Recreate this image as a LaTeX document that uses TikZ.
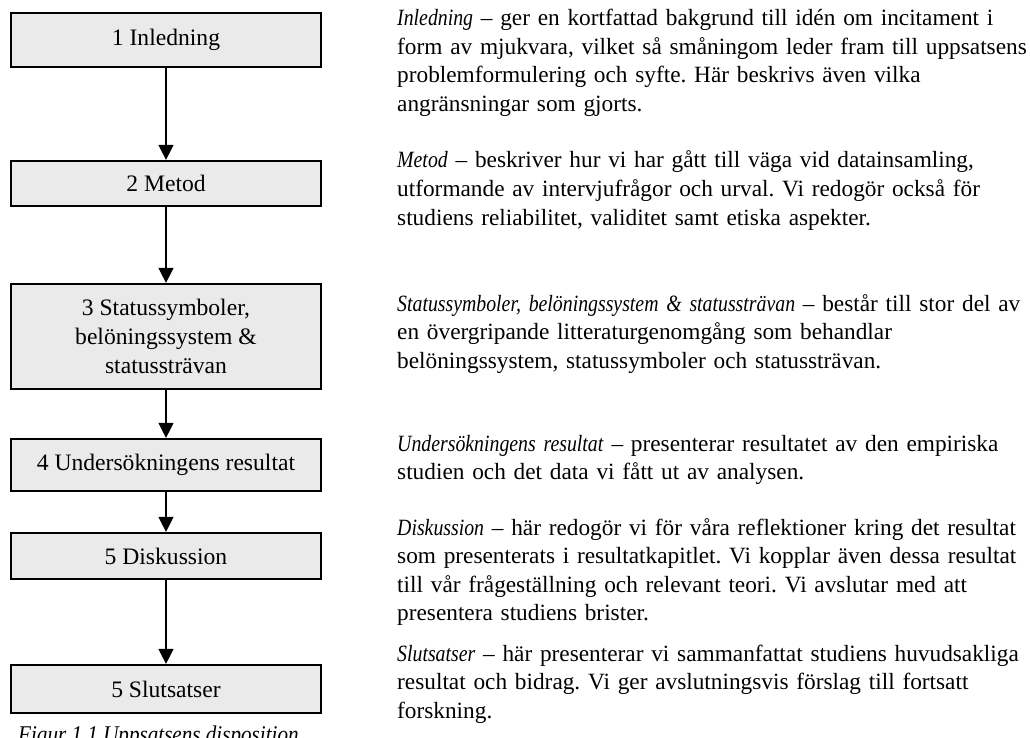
\documentclass[tikz,border=0pt]{standalone}
\usepackage{fontspec}
\setmainfont{Liberation Serif}[ItalicFeatures={FakeStretch=0.85}]
\newfontfamily\capfont{Liberation Serif}[FakeStretch=0.88]
\usetikzlibrary{arrows.meta}
\definecolor{boxfill}{HTML}{EAEAEA}
\frenchspacing
\begin{document}
\begin{tikzpicture}[x=1pt,y=-1pt,
  stepbox/.style={draw=black, line width=2.2pt, fill=boxfill, minimum width=310pt, align=center, inner sep=0pt,
    font=\fontsize{23.6}{29}\selectfont},
  desc/.style={anchor=base west, inner sep=0pt, text width=700pt, align=left,
    font=\fontsize{23.3}{28.5}\selectfont},
  flow/.style={line width=1.3pt, -{Triangle[width=15pt,length=15pt]}}]
\useasboundingbox (0,0) rectangle (1030,738);
\node[stepbox, minimum height=54pt] (b1) at (166,40) {1 Inledning};
\node[stepbox, minimum height=45pt] (b2) at (166,183.5) {2 Metod};
\node[stepbox, minimum height=105pt] (b3) at (166,336.5) {3 Statussymboler,\\ belöningssystem \&\\ statussträvan};
\node[stepbox, minimum height=52pt] (b4) at (166,465) {4 Undersökningens resultat};
\node[stepbox, minimum height=46pt] (b5) at (166,556) {5 Diskussion};
\node[stepbox, minimum height=48pt] (b6) at (166,689) {5 Slutsatser};
\draw[flow] (b1) -- (b2);
\draw[flow] (b2) -- (b3);
\draw[flow] (b3) -- (b4);
\draw[flow] (b4) -- (b5);
\draw[flow] (b5) -- (b6);
\node[anchor=base west, inner sep=0pt, font=\fontsize{24}{28}\capfont\itshape] (cap) at (18,742) {Figur 1.1 Uppsatsens disposition};
\node[desc] (p1) at (397,26) {\textit{Inledning} – ger en kortfattad bakgrund till idén om incitament i\\ form av mjukvara, vilket så småningom leder fram till uppsatsens\\ problemformulering och syfte. Här beskrivs även vilka\\ angränsningar som gjorts.};
\node[desc] (p2) at (397,168) {\textit{Metod} – beskriver hur vi har gått till väga vid datainsamling,\\ utformande av intervjufrågor och urval. Vi redogör också för\\ studiens reliabilitet, validitet samt etiska aspekter.};
\node[desc] (p3) at (397,311) {\textit{Statussymboler, belöningssystem \& statussträvan} – består till stor del av\\ en övergripande litteraturgenomgång som behandlar\\ belöningssystem, statussymboler och statussträvan.};
\node[desc] (p4) at (397,451) {\textit{Undersökningens resultat} – presenterar resultatet av den empiriska\\ studien och det data vi fått ut av analysen.};
\node[desc] (p5) at (397,535) {\textit{Diskussion} – här redogör vi för våra reflektioner kring det resultat\\ som presenterats i resultatkapitlet. Vi kopplar även dessa resultat\\ till vår frågeställning och relevant teori. Vi avslutar med att\\ presentera studiens brister.};
\node[desc] (p6) at (397,661) {\textit{Slutsatser} – här presenterar vi sammanfattat studiens huvudsakliga\\ resultat och bidrag. Vi ger avslutningsvis förslag till fortsatt\\ forskning.};
\end{tikzpicture}
\end{document}
